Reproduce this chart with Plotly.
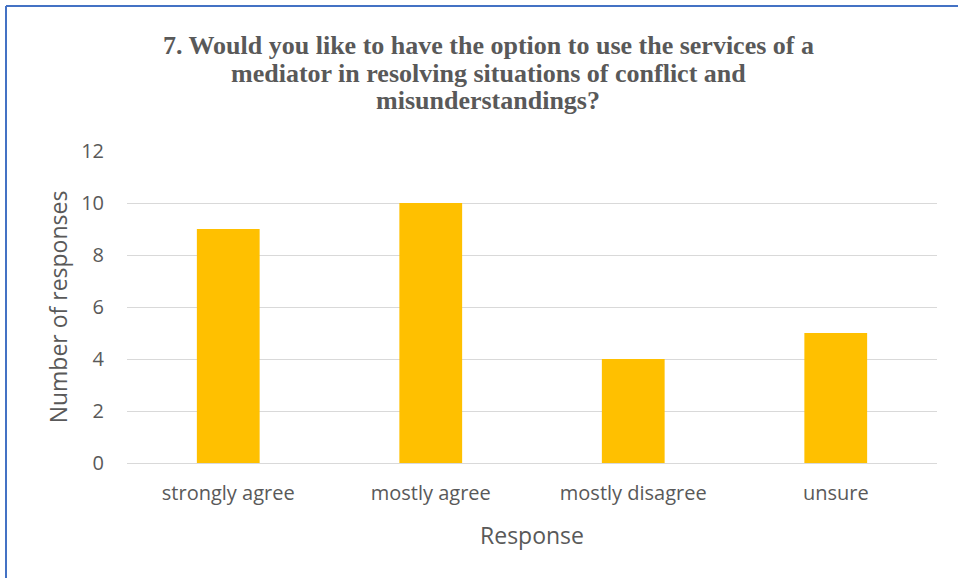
import plotly.graph_objects as go

categories = ["strongly agree", "mostly agree", "mostly disagree", "unsure"]
responses = [9, 10, 4, 5]
y_ticks = [0, 2, 4, 6, 8, 10, 12]

title_lines = ["7. Would you like to have the option to use the services of a",
               "mediator in resolving situations of conflict and",
               "misunderstandings?"]

W, H = 958, 578
L, R, T, B = 127, 21, 151, 115
pw, ph = W - L - R, H - T - B

fig = go.Figure(go.Bar(x=categories, y=responses, marker_color="#FFC000",
                       marker_line_width=0, width=0.31))

bx = (6 - L) / pw
by = (H - B - 6) / ph
fig.add_shape(type="line", xref="paper", yref="paper", x0=bx, x1=bx, y0=-0.6, y1=by,
              line=dict(color="#4472C4", width=2))
fig.add_shape(type="line", xref="paper", yref="paper", x0=bx, x1=1.1, y0=by, y1=by,
              line=dict(color="#4472C4", width=2))

for i, line in enumerate(title_lines):
    py = 45 + 28 * i
    fig.add_annotation(text="<b>" + line + "</b>", xref="paper", yref="paper",
                       x=(488 - L) / pw, y=(H - B - py) / ph, xanchor="center", yanchor="middle",
                       showarrow=False,
                       font=dict(family="Liberation Serif", size=26, color="#595959"))

fig.update_layout(
    width=W, height=H,
    margin=dict(l=L, r=R, t=T, b=B),
    paper_bgcolor="white", plot_bgcolor="white",
    showlegend=False,
    font=dict(family="Open Sans", color="#595959"),
    xaxis=dict(showgrid=False, showline=False, ticks="", ticklabelstandoff=16,
               tickfont=dict(size=20, color="#595959"),
               title=dict(text="Response", font=dict(size=23, color="#595959"), standoff=22)),
    yaxis=dict(range=[0, 12], tickvals=y_ticks, showgrid=True, gridcolor="#D9D9D9",
               gridwidth=1, zeroline=True, zerolinecolor="#D9D9D9", zerolinewidth=1,
               showline=False, ticks="", ticklabelstandoff=22,
               tickfont=dict(size=20, color="#595959"),
               title=dict(text="Number of responses", font=dict(size=23, color="#595959"), standoff=7)),
)

fig.write_html("out.html", config={"displayModeBar": False},
               post_script="document.body.style.margin='0';")
